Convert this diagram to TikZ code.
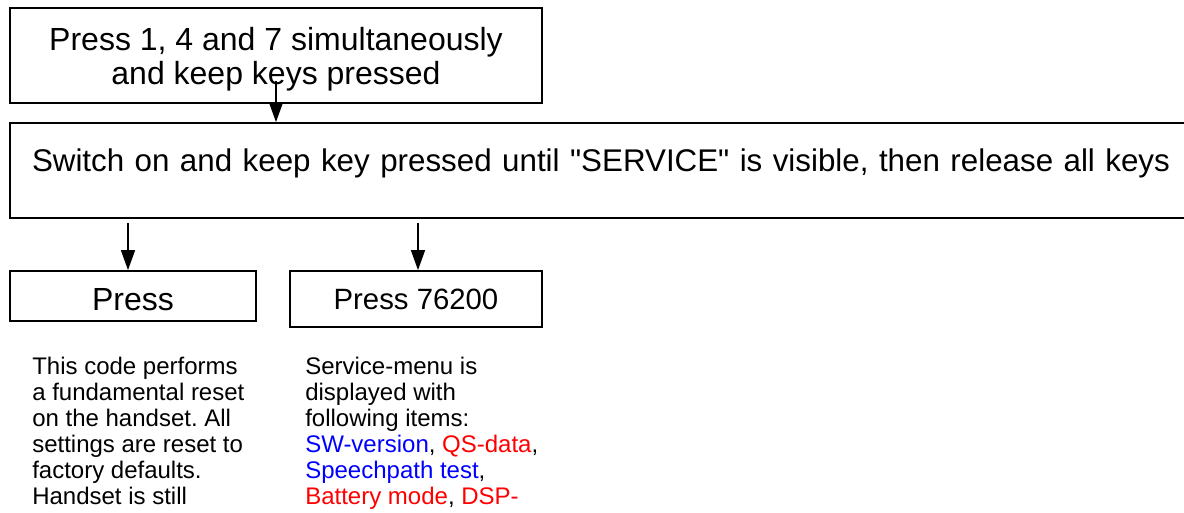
\documentclass[tikz,border=0pt]{standalone}
\usepackage{fontspec}
\setmainfont{Liberation Sans}
\usetikzlibrary{arrows.meta, positioning}
\frenchspacing
\tikzstyle{stepbox} = [rectangle, draw=black, line width=1.3pt, text=black, font=\fontsize{24}{25.5}\selectfont]
\tikzstyle{notes} = [anchor=north west, inner sep=0pt, align=left, font=\fontsize{18}{19.5}\selectfont]
\tikzstyle{arrow} = [line width=1pt, -{Triangle[length=15pt, width=10.5pt]}]
\begin{document}
\begin{tikzpicture}[x=0.75pt, y=0.75pt]
\useasboundingbox (0,0) rectangle (1184,-513);

\node (keys) [stepbox, minimum width=399pt, minimum height=71.25pt, align=center, text depth=-2pt] at (276,-55.5) {Press 1, 4 and 7 simultaneously\\and keep keys pressed};

\node (switch) [stepbox, minimum width=900pt, minimum height=71.25pt, text width=867pt, align=left, text height=17pt, text depth=15pt, font=\fontsize{23.5}{25.5}\selectfont] at (610,-170.5) {Switch on and keep key pressed until \textquotedbl SERVICE\textquotedbl{} is visible, then release all keys};

\draw[arrow] ([yshift=17pt]keys.south) -- (keys.south |- switch.north);

\node (reset) [stepbox, minimum width=184.5pt, minimum height=37.5pt, text height=21.5pt] at (133,-296) {Press};

\node (service) [stepbox, minimum width=189pt, minimum height=42pt, font=\fontsize{22}{24}\selectfont] at (416,-299) {Press 76200};

\coordinate (resettop) at ([xshift=-3.75pt]reset.north);
\coordinate (servicetop) at ([xshift=1.5pt]service.north);

\draw[arrow] (resettop |- switch.south) ++(0,-4) -- (resettop);
\draw[arrow] (servicetop |- switch.south) ++(0,-4) -- (servicetop);

\node (resetnote) [notes] at (32,-357) {This code performs\\a fundamental reset\\on the handset. All\\settings are reset to\\factory defaults.\\Handset is still};

\node (servicenote) [notes] at (305,-357) {Service-menu is\\displayed with\\following items:\\\textcolor{blue}{SW-version}, \textcolor{red}{QS-data},\\\textcolor{blue}{Speechpath test},\\\textcolor{red}{Battery mode}, \textcolor{red}{DSP-}};

\end{tikzpicture}
\end{document}
